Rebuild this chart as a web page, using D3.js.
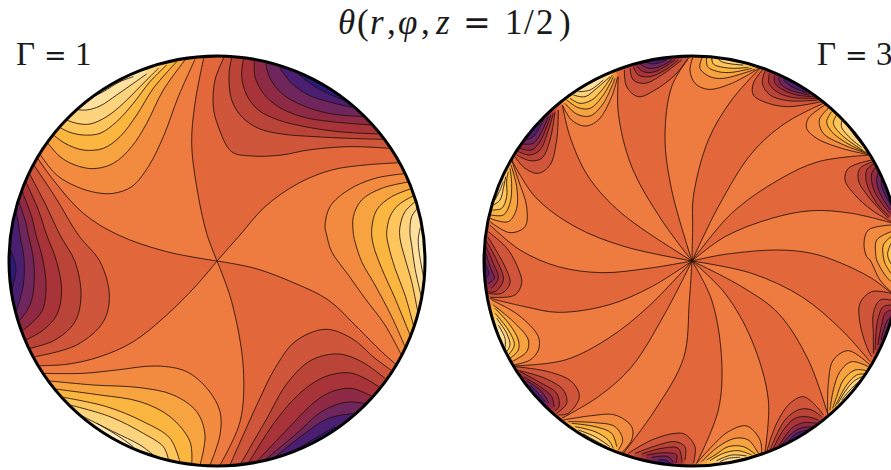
<!DOCTYPE html>
<html><head><meta charset="utf-8">
<script src="https://cdn.jsdelivr.net/npm/d3@7/dist/d3.min.js"></script>
<style>html,body{margin:0;padding:0;background:#fff;overflow:hidden}svg{display:block}text{font-family:"Liberation Serif",serif;fill:#1a1a1a}</style>
</head><body><svg id="c" width="891" height="470"></svg>
<script>
// Contours of theta. Disc units: radius 624 across, 615 along.
const panelValues = ["1", "3"];
const baseColor = "#ee7b3f";
const midColor = "#e2673a";
const hotLevels = ["#f28b40","#f7a440","#fbb63f","#fdc55c","#fdd47e","#fee19f","#fff0bf"];
const coldLevels = ["#cf553b","#bb4439","#a83338","#8e2a46","#6f265d","#4a1f72","#2b1a7c"];

// Gamma = 1: the zero-level lines through the centre
const leftSpirals = [
 [[0,0],[-31,83],[-61,223],[-76,353],[-66,473],[-39,613]],
 [[0,0],[69,78],[144,163],[244,233],[344,273],[444,288],[549,295]],
 [[0,0],[114,-22],[234,-67],[334,-117],[424,-202],[494,-272],[539,-312]],
 [[0,0],[44,-122],[79,-322],[69,-482],[9,-612]],
 [[0,0],[-61,-72],[-151,-162],[-251,-242],[-351,-287],[-451,-310],[-536,-314]],
 [[0,0],[-151,28],[-296,78],[-401,143],[-491,243],[-541,313]]
];
// index of spiral pairs bounding the darker sectors
const leftDarkSectors = [[0,1],[2,3],[4,5]];
const leftHotLobes = [
 [
  [[-533,323],[-481,258],[-421,223],[-361,205],[-311,203],[-256,223],[-206,283],[-161,373],[-116,493],[-66,605]],
  [[-511,358],[-471,313],[-426,288],[-371,277],[-311,293],[-256,343],[-211,413],[-161,513],[-96,603]],
  [[-496,383],[-456,353],[-401,333],[-341,338],[-291,373],[-241,438],[-191,518],[-121,598]],
  [[-476,403],[-441,386],[-401,378],[-351,383],[-301,418],[-251,473],[-201,538],[-151,588]],
  [[-456,425],[-421,413],[-381,411],[-331,433],[-281,473],[-231,523],[-176,578]],
  [[-426,455],[-391,453],[-351,465],[-301,498],[-251,533],[-211,561]],
  [[-389,485],[-341,508],[-291,538],[-251,553]]
 ],[
  [[572,263],[474,248],[394,213],[339,163],[324,103],[329,78],[344,28],[394,-42],[444,-112],[504,-192],[552,-280]],
  [[579,238],[494,218],[434,183],[409,133],[409,83],[414,58],[434,-2],[474,-72],[524,-167],[564,-257]],
  [[586,218],[524,193],[479,153],[464,93],[469,48],[494,-22],[534,-112],[579,-222]],
  [[594,198],[544,168],[519,133],[509,83],[514,48],[534,-22],[564,-102],[589,-192]],
  [[601,183],[564,148],[549,103],[549,68],[564,8],[584,-62],[604,-162]],
  [[606,163],[584,133],[579,83],[584,48],[594,-22],[614,-112]],
  [[610,100],[604,68],[606,30],[620,-50]]
 ],[
  [[-521,-337],[-401,-337],[-301,-327],[-181,-315],[-91,-332],[-26,-387],[9,-452],[9,-522],[-21,-612]],
  [[-501,-360],[-371,-372],[-231,-380],[-131,-402],[-61,-452],[-36,-522],[-51,-612]],
  [[-486,-384],[-351,-402],[-231,-422],[-141,-467],[-81,-542],[-76,-612]],
  [[-461,-409],[-331,-437],[-221,-482],[-141,-532],[-111,-604]],
  [[-441,-432],[-321,-467],[-221,-517],[-161,-557],[-146,-594]],
  [[-411,-462],[-311,-512],[-231,-552],[-191,-582]],
  [[-361,-487],[-301,-522],[-251,-557]]
 ]
];
const leftColdLobes = [
 [
  [[21,611],[-6,543],[-11,463],[4,403],[44,328],[104,315],[194,318],[274,333],[394,343],[519,338]],
  [[44,611],[36,558],[44,483],[74,433],[124,398],[194,381],[294,373],[394,368],[504,365]],
  [[79,605],[74,553],[89,498],[124,453],[184,423],[264,403],[364,388],[484,381]],
  [[112,598],[114,553],[139,503],[184,463],[254,433],[344,418],[464,408]],
  [[146,593],[159,548],[194,503],[254,468],[334,443],[439,433]],
  [[189,578],[224,533],[274,498],[334,478],[404,461]],
  [[244,561],[294,523],[354,493],[389,478]]
 ],[
  [[-553,293],[-486,193],[-416,78],[-351,-2],[-323,-102],[-341,-182],[-421,-252],[-546,-287]],
  [[-566,268],[-516,173],[-471,78],[-426,-2],[-408,-102],[-426,-182],[-486,-237],[-561,-262]],
  [[-576,243],[-536,153],[-511,78],[-481,-2],[-466,-92],[-481,-162],[-521,-207],[-573,-237]],
  [[-586,213],[-556,133],[-543,78],[-521,-2],[-513,-82],[-526,-152],[-581,-207]],
  [[-596,183],[-573,113],[-566,78],[-551,8],[-549,-72],[-561,-132],[-591,-177]],
  [[-606,153],[-599,130],[-591,78],[-579,8],[-581,-72],[-601,-147]],
  [[-621,38],[-603,-22],[-616,-87]]
 ],[
  [[39,-612],[124,-422],[174,-322],[234,-242],[324,-205],[404,-232],[474,-292],[522,-327]],
  [[69,-612],[144,-482],[214,-362],[284,-297],[364,-279],[434,-302],[504,-352]],
  [[94,-607],[174,-482],[254,-392],[324,-347],[394,-335],[444,-352],[489,-380]],
  [[119,-602],[204,-512],[294,-422],[344,-392],[404,-382],[466,-407]],
  [[144,-597],[234,-522],[314,-452],[384,-424],[444,-427]],
  [[169,-592],[264,-517],[334,-472],[414,-457]],
  [[219,-577],[294,-532],[354,-497]]
 ]
];

// Gamma = 3
const rightSpirals = [
 [[0,0],[2,100],[4,193],[49,363],[119,483],[204,578]],
 [[0,0],[79,163],[179,323],[279,413],[394,473]],
 [[0,0],[119,143],[259,243],[379,298],[534,318]],
 [[0,0],[99,73],[239,128],[359,151],[479,143],[615,110]],
 [[0,0],[99,20],[259,33],[359,23],[439,-3],[539,-52],[612,-108]],
 [[0,0],[179,-37],[329,-107],[449,-207],[534,-302]],
 [[0,0],[149,-77],[259,-157],[349,-297],[410,-468]],
 [[0,0],[99,-97],[179,-237],[229,-417],[219,-572]],
 [[0,0],[59,-117],[89,-297],[79,-447],[14,-607]],
 [[0,0],[-8,-120],[-25,-290],[-111,-447],[-206,-577]],
 [[0,0],[-81,-157],[-181,-317],[-281,-407],[-391,-472]],
 [[0,0],[-131,-137],[-251,-232],[-381,-297],[-536,-315]],
 [[0,0],[-121,-77],[-251,-132],[-401,-154],[-501,-137],[-606,-112]],
 [[0,0],[-131,-22],[-271,-35],[-401,-17],[-516,33],[-606,108]],
 [[0,0],[-201,43],[-351,103],[-471,193],[-541,303]],
 [[0,0],[-211,143],[-311,253],[-366,373],[-389,468]],
 [[0,0],[-91,123],[-181,283],[-221,443],[-221,553]],
 [[0,0],[-61,213],[-81,373],[-61,523],[-11,608]]
];
const rightDarkSectors = [[0,1],[2,3],[4,5],[6,7],[8,9],[10,11],[12,13],[14,15],[16,17]];
const rightHotLobes = [
 [[[4,615],[-6,573],[9,533],[49,515],[119,533],[201,578]],[[31,613],[24,578],[54,553],[94,548],[189,575]],[[44,613],[47,583],[79,568],[119,566],[179,578]],[[59,611],[64,591],[94,581],[129,578],[169,581]],[[74,611],[89,598],[119,591],[154,588]],[[89,611],[114,601],[144,596]]],
 [[[399,468],[349,428],[344,398],[374,368],[449,338],[534,318]],[[409,458],[382,423],[394,383],[449,351],[529,321]],[[419,448],[404,418],[419,388],[469,351],[524,325]],[[434,438],[424,413],[449,378],[514,331]],[[449,421],[449,401],[479,365],[509,341]],[[469,403],[494,368],[514,345]]],
 [[[597,108],[529,93],[516,53],[524,13],[534,3],[564,-57],[597,-92]],[[597,88],[554,63],[551,23],[554,3],[579,-42],[597,-62]],[[597,73],[574,48],[574,13],[579,-7],[597,-37]],[[597,53],[587,23],[591,3],[605,-20]],[[615,40],[608,10],[615,-10]]],
 [[[534,-312],[469,-269],[424,-297],[409,-367],[407,-457]],[[529,-317],[479,-302],[444,-332],[424,-387],[414,-447]],[[524,-329],[489,-327],[454,-357],[434,-407],[422,-442]],[[519,-339],[494,-342],[464,-372],[444,-407],[429,-437]],[[509,-347],[484,-362],[459,-392],[437,-429]],[[504,-359],[474,-387],[449,-417]]],
 [[[209,-577],[204,-537],[164,-495],[109,-512],[59,-557],[14,-607]],[[199,-577],[169,-537],[129,-532],[79,-557],[29,-602]],[[189,-579],[154,-557],[109,-557],[69,-582],[44,-597]],[[179,-582],[139,-569],[94,-577],[54,-599]],[[164,-585],[119,-582],[74,-599]],[[144,-589],[109,-592],[84,-602]]],
 [[[-386,-477],[-301,-464],[-231,-462],[-181,-497],[-181,-537],[-211,-575]],[[-371,-482],[-291,-485],[-231,-497],[-208,-537],[-221,-567]],[[-361,-487],[-291,-497],[-241,-517],[-226,-557]],[[-351,-497],[-291,-512],[-251,-537],[-236,-562]],[[-341,-507],[-291,-527],[-246,-557]],[[-326,-519],[-281,-544],[-256,-557]]],
 [[[-601,-117],[-521,-162],[-461,-227],[-461,-267],[-486,-297],[-536,-312]],[[-596,-132],[-536,-182],[-491,-237],[-496,-272],[-541,-302]],[[-591,-142],[-546,-192],[-521,-237],[-521,-267],[-546,-292]],[[-591,-157],[-551,-207],[-533,-252],[-551,-282]],[[-586,-172],[-556,-217],[-546,-252],[-556,-272]],[[-581,-192],[-561,-232],[-561,-262]]],
 [[[-606,118],[-546,85],[-501,103],[-496,163],[-521,243],[-541,303]],[[-606,128],[-551,118],[-526,158],[-526,223],[-543,288]],[[-603,138],[-566,138],[-546,173],[-541,233],[-546,278]],[[-599,153],[-571,158],[-556,193],[-556,243],[-551,268]],[[-596,168],[-576,183],[-566,218],[-559,253]],[[-591,183],[-576,213],[-566,238]]],
 [[[-389,468],[-361,423],[-321,405],[-281,423],[-241,493],[-223,553]],[[-381,473],[-346,441],[-306,435],[-266,473],[-231,548]],[[-376,483],[-341,460],[-306,458],[-266,498],[-236,553]],[[-366,488],[-336,473],[-301,483],[-266,518],[-239,558]],[[-356,498],[-321,493],[-286,518],[-246,553]],[[-341,508],[-306,513],[-266,543]]]
];
const rightColdLobes = [
 [[[211,573],[184,533],[184,498],[229,473],[289,463],[389,478]],[[219,570],[211,533],[234,498],[289,481],[379,483]],[[232,563],[231,533],[254,508],[299,491],[374,488]],[[247,556],[249,533],[274,513],[314,498],[364,493]],[[259,551],[269,528],[299,511],[354,498]],[[274,543],[299,523],[344,505]]],
 [[[539,303],[469,278],[459,243],[489,198],[539,153],[597,118]],[[544,298],[504,278],[499,243],[529,193],[589,128]],[[547,293],[524,273],[524,233],[554,173],[591,133]],[[554,283],[539,263],[544,218],[569,173],[594,143]],[[561,273],[554,243],[564,203],[595,153]],[[569,253],[569,223],[597,168]]],
 [[[597,-97],[539,-92],[504,-127],[504,-187],[524,-257],[539,-287]],[[597,-117],[564,-117],[544,-157],[544,-217],[544,-277]],[[597,-132],[574,-137],[557,-177],[549,-267]],[[597,-147],[579,-157],[569,-192],[557,-252]],[[597,-167],[584,-182],[567,-237]],[[605,-185],[590,-205],[575,-235]]],
 [[[394,-462],[374,-437],[334,-407],[294,-427],[254,-487],[224,-572]],[[389,-467],[359,-447],[324,-445],[279,-477],[234,-567]],[[379,-477],[344,-467],[309,-472],[274,-507],[244,-562]],[[374,-487],[334,-485],[299,-502],[259,-557]],[[364,-497],[324,-502],[294,-522],[269,-552]],[[349,-507],[314,-517],[284,-545]]],
 [[[-191,-577],[-121,-537],[-51,-517],[-21,-520],[9,-557],[4,-607]],[[-171,-577],[-101,-552],[-51,-542],[-21,-557],[-21,-597]],[[-151,-579],[-91,-562],[-41,-562],[-30,-604]],[[-136,-582],[-81,-575],[-46,-582],[-48,-606]],[[-121,-589],[-71,-587],[-56,-604]],[[-101,-597],[-80,-597],[-66,-606]]],
 [[[-531,-317],[-431,-332],[-361,-362],[-338,-407],[-371,-457],[-401,-462]],[[-526,-327],[-441,-352],[-386,-387],[-376,-427],[-406,-457]],[[-516,-332],[-451,-367],[-406,-397],[-399,-437],[-411,-449]],[[-506,-347],[-456,-377],[-421,-407],[-414,-437]],[[-496,-359],[-451,-392],[-429,-427]],[[-486,-372],[-461,-397],[-441,-422]]],
 [[[-611,88],[-551,33],[-516,-37],[-511,-67],[-531,-102],[-606,-109]],[[-613,73],[-561,-17],[-546,-67],[-571,-97],[-611,-97]],[[-616,58],[-586,3],[-566,-57],[-591,-92],[-612,-92]],[[-619,45],[-596,-7],[-581,-52],[-601,-82]],[[-620,30],[-606,-17],[-593,-52],[-611,-67]],[[-622,15],[-616,-17],[-609,-37],[-619,-52]]],
 [[[-531,313],[-501,278],[-461,263],[-426,288],[-406,363],[-401,453]],[[-526,318],[-486,301],[-451,308],[-426,363],[-411,448]],[[-521,328],[-486,318],[-456,333],[-431,393],[-416,443]],[[-516,338],[-481,333],[-456,358],[-436,403],[-423,438]],[[-509,351],[-476,353],[-451,388],[-431,433]],[[-501,363],[-476,373],[-446,423]]],
 [[[-203,573],[-196,523],[-161,493],[-111,513],[-51,558],[-11,608]],[[-186,578],[-176,543],[-141,533],[-91,558],[-31,603]],[[-176,583],[-161,558],[-126,553],[-81,573],[-41,603]],[[-166,585],[-146,568],[-111,568],[-51,603]],[[-156,591],[-131,578],[-96,583],[-61,603]],[[-141,598],[-116,591],[-76,603]]]
];

const svg = d3.select("#c");
const RX = 624, RY = 615;

function drawPanel(id, cx, spirals, darkSectors, hotLobes, coldLobes) {
  const x = d3.scaleLinear().domain([-RX, RX]).range([cx - 208, cx + 208]);
  const y = d3.scaleLinear().domain([-RY, RY]).range([466, 56]);
  const line = d3.line().x(d => x(d[0])).y(d => y(d[1])).curve(d3.curveCatmullRom.alpha(0.5));
  const ang = p => Math.atan2(p[1] / RY, p[0] / RX);
  const far = a => [1.5 * RX * Math.cos(a), 1.5 * RY * Math.sin(a)];
  // goes round outside the disc from one end of a curve to the other, the short way
  function outside(p, q) {
    const a0 = ang(p); let a1 = ang(q);
    while (a1 - a0 > Math.PI) a1 -= 2 * Math.PI;
    while (a1 - a0 < -Math.PI) a1 += 2 * Math.PI;
    return d3.range(0, 9).map(i => far(a0 + (a1 - a0) * i / 8));
  }
  const poly = pts => pts.map(d => "L" + x(d[0]) + "," + y(d[1])).join("");
  const lobePath = c => line(c) + poly(outside(c[c.length - 1], c[0])) + "Z";
  const sectorPath = (a, b) => {
    const rb = b.slice().reverse();
    return line(a) + poly(outside(a[a.length - 1], b[b.length - 1])) + "L" + line(rb).slice(1) + "Z";
  };

  const defs = svg.append("defs");
  defs.append("clipPath").attr("id", id).append("ellipse")
    .attr("cx", x(0)).attr("cy", y(0)).attr("rx", x(RX) - x(0)).attr("ry", y(-RY) - y(0));
  const g = svg.append("g").attr("clip-path", `url(#${id})`);
  g.append("ellipse").attr("cx", x(0)).attr("cy", y(0))
    .attr("rx", x(RX) - x(0)).attr("ry", y(-RY) - y(0)).attr("fill", baseColor);
  g.selectAll(".sec").data(darkSectors).join("path").attr("class", "sec")
    .attr("d", d => sectorPath(spirals[d[0]], spirals[d[1]])).attr("fill", midColor);

  const bands = [];
  hotLobes.forEach(l => l.forEach((c, i) => bands.push({ c, color: hotLevels[i] })));
  coldLobes.forEach(l => l.forEach((c, i) => bands.push({ c, color: coldLevels[i] })));
  g.selectAll(".band").data(bands).join("path").attr("class", "band")
    .attr("d", d => lobePath(d.c)).attr("fill", d => d.color);

  const strokes = bands.map(b => b.c).concat(spirals);
  g.selectAll(".iso").data(strokes).join("path").attr("class", "iso")
    .attr("d", line).attr("fill", "none").attr("stroke", "#241008")
    .attr("stroke-opacity", 0.85).attr("stroke-width", 1);

  svg.append("ellipse").attr("cx", x(0)).attr("cy", y(0))
    .attr("rx", x(RX) - x(0)).attr("ry", y(-RY) - y(0))
    .attr("fill", "none").attr("stroke", "#000").attr("stroke-width", 3);
}

drawPanel("clipL", 217, leftSpirals, leftDarkSectors, leftHotLobes, leftColdLobes);
drawPanel("clipR", 692, rightSpirals, rightDarkSectors, rightHotLobes, rightColdLobes);

// Labels: each glyph is placed separately to follow the wide math spacing
const eqFont = "DejaVu Serif";
function glyphs(parent, list) {
  list.forEach(g => {
    const t = parent.append("tspan").attr("x", g.x).text(g.t);
    if (g.i) t.attr("font-style", "italic");
    if (g.f) t.attr("font-family", g.f);
    if (g.s) t.attr("font-size", g.s);
  });
}
panelValues.forEach((v, k) => {
  const o = k === 0 ? 0 : 801;
  const t = svg.append("text").attr("y", 65).attr("font-size", 33);
  glyphs(t, [{ t: "Γ", x: 16 + o }, { t: "=", x: 44 + o, f: eqFont, s: 27 }, { t: v, x: 75 + o }]);
});
const title = svg.append("text").attr("y", 34).attr("font-size", 35);
glyphs(title, [
  { t: "θ", x: 338, i: 1 }, { t: "(", x: 357 }, { t: "r", x: 370, i: 1 }, { t: ",", x: 387 },
  { t: "φ", x: 398, i: 1 }, { t: ",", x: 421 }, { t: "z", x: 436, i: 1 }, { t: "=", x: 463, f: eqFont, s: 33 },
  { t: "1", x: 505 }, { t: "/", x: 524 }, { t: "2", x: 536 }, { t: ")", x: 559 }
]);
</script></body></html>
